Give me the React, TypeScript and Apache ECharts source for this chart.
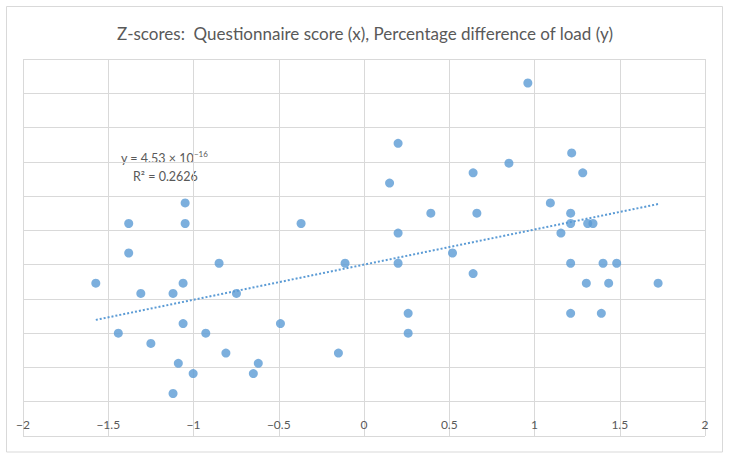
import React, { useEffect, useRef } from "react";
import * as echarts from "echarts";

const titleText = "Z-scores:  Questionnaire score (x), Percentage difference of load (y)";

const xValues = [
  -1.573, -1.441, -1.38, -1.38, -1.309, -1.25, -1.12, -1.12, -1.089, -1.061,
  -1.061, -1.049, -1.049, -1.002, -0.928, -0.85, -0.81, -0.748, -0.649, -0.62,
  -0.49, -0.369, -0.15, -0.111, 0.15, 0.2, 0.2, 0.2, 0.259, 0.259,
  0.392, 0.519, 0.64, 0.64, 0.662, 0.85, 0.961, 1.093, 1.155, 1.218,
  1.212, 1.212, 1.212, 1.212, 1.283, 1.304, 1.312, 1.343, 1.392, 1.402,
  1.435, 1.482, 1.725,
];
const yValues = [
  -0.27, -1.0, 0.6, 0.17, -0.42, -1.15, -0.42, -1.88, -1.44, -0.27,
  -0.86, 0.9, 0.6, -1.59, -1.0, 0.02, -1.29, -0.42, -1.59, -1.44,
  -0.86, 0.6, -1.29, 0.02, 1.19, 1.77, 0.46, 0.02, -0.71, -1.0,
  0.75, 0.17, 1.34, -0.13, 0.75, 1.48, 2.65, 0.9, 0.46, 1.63,
  0.75, 0.6, 0.02, -0.71, 1.34, -0.27, 0.6, 0.6, -0.71, 0.02,
  -0.27, 0.02, -0.27,
];

const trendSlope = 0.5124;
const trendIntercept = 4.53e-16;
const equationLine1 = "y = 4.53 × 10";
const equationExp = "−16";
const equationLine2 = "R² = 0.2626";

const xMin = -2;
const xMax = 2;
const xInterval = 0.5;
const yMin = -2.5;
const yMax = 3;
const yInterval = 0.5;

const BLUE = "#5B9BD5";
const GRID = "#d9d9d9";
const TEXT = "#595959";
const FONT = "Lato";

export default function App() {
  const ref = useRef<HTMLDivElement>(null);

  useEffect(() => {
    document.body.style.margin = "0";
    if (!ref.current) return;
    const chart = echarts.init(ref.current, undefined, { renderer: "svg" });

    const points = xValues.map((x, i) => [x, yValues[i]]);
    const tx0 = Math.min(...xValues);
    const tx1 = Math.max(...xValues);
    const trend = [
      [tx0, trendSlope * tx0 + trendIntercept],
      [tx1, trendSlope * tx1 + trendIntercept],
    ];

    chart.setOption({
      animation: false,
      backgroundColor: "#ffffff",
      grid: { left: 23, right: 25, top: 59, bottom: 24, containLabel: false },
      xAxis: {
        type: "value",
        min: xMin,
        max: xMax,
        interval: xInterval,
        axisLine: { show: false },
        axisTick: { show: false },
        splitLine: { show: true, lineStyle: { color: GRID, width: 1 } },
        axisLabel: {
          inside: true,
          margin: 6,
          color: TEXT,
          fontFamily: FONT,
          fontSize: 12,
          formatter: (v: number) => (v < 0 ? "−" + Math.abs(v) : String(v)),
        },
      },
      yAxis: {
        type: "value",
        min: yMin,
        max: yMax,
        interval: yInterval,
        axisLine: { show: false },
        axisTick: { show: false },
        axisLabel: { show: false },
        splitLine: { show: true, lineStyle: { color: GRID, width: 1 } },
      },
      series: [
        {
          type: "scatter",
          data: points,
          symbol: "circle",
          symbolSize: 9,
          itemStyle: { color: BLUE },
          z: 2,
        },
        {
          type: "line",
          data: trend,
          symbol: "none",
          lineStyle: { color: BLUE, width: 2, type: [2, 2] },
          z: 3,
        },
      ],
      graphic: [
        {
          type: "rect",
          shape: { x: 6.5, y: 6.5, width: 716, height: 445.5 },
          style: { fill: "none", stroke: GRID, lineWidth: 1 },
          silent: true,
        },
        {
          type: "text",
          x: 365,
          y: 33,
          style: {
            text: titleText,
            fill: TEXT,
            font: `17px ${FONT}`,
            textAlign: "center",
            textVerticalAlign: "middle",
          },
        },
        {
          type: "text",
          x: 121,
          y: 158,
          style: {
            text: `{a|${equationLine1}}{b|${equationExp}}`,
            textAlign: "left",
            textVerticalAlign: "middle",
            rich: {
              a: { fontFamily: FONT, fontSize: 12.5, fill: TEXT, color: TEXT, lineHeight: 16 },
              b: { fontFamily: FONT, fontSize: 8, fill: TEXT, color: TEXT, verticalAlign: "top", lineHeight: 10 },
            },
          },
        },
        {
          type: "text",
          x: 133,
          y: 176,
          style: {
            text: equationLine2,
            fill: TEXT,
            font: `12.5px ${FONT}`,
            textAlign: "left",
            textVerticalAlign: "middle",
          },
        },
      ],
    });

    return () => chart.dispose();
  }, []);

  return (
    <div
      ref={ref}
      style={{ position: "fixed", left: 0, top: 0, width: 730, height: 460 }}
    />
  );
}
